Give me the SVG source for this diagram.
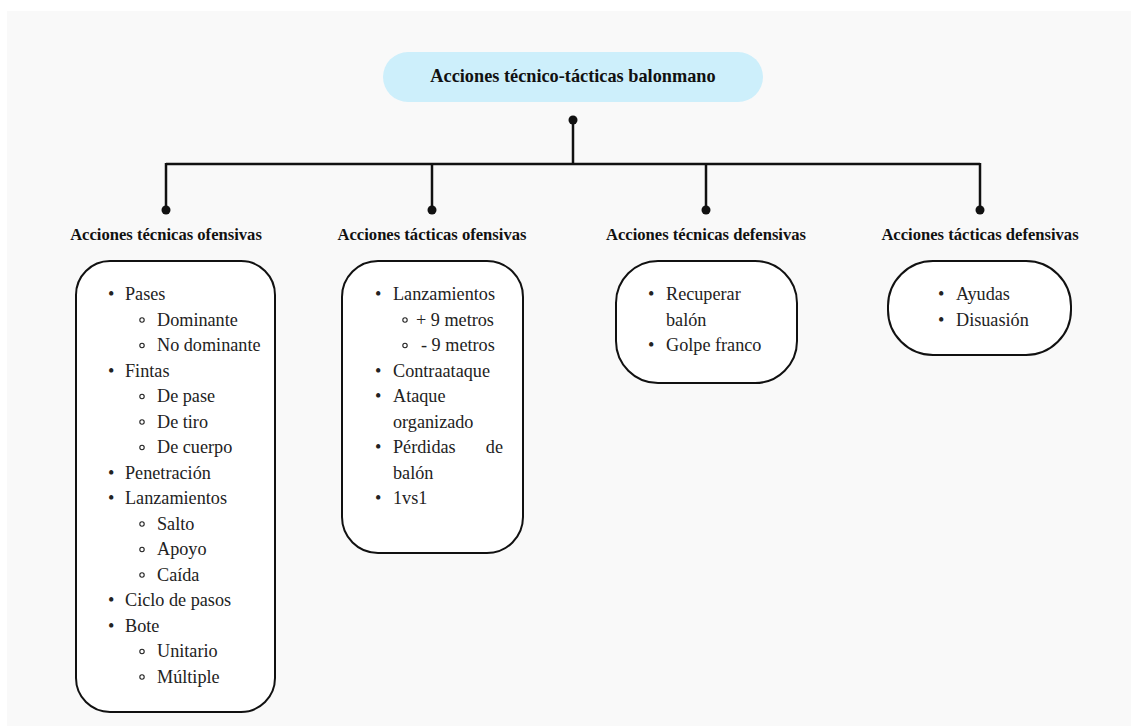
<svg xmlns="http://www.w3.org/2000/svg" width="1131" height="726" viewBox="0 0 1131 726">
<style>
.bg{fill:#f9f9f9}
.box{fill:#ffffff;stroke:#111;stroke-width:2}
.ln{fill:none;stroke:#111;stroke-width:2.5}
.dot{fill:#111}
.sb{fill:none;stroke:#222;stroke-width:1.1}
.t{font-family:"Liberation Serif","Times New Roman",serif;font-size:18.2px;fill:#222}
.h{font-family:"Liberation Serif","Times New Roman",serif;font-size:16.6px;font-weight:bold;fill:#111;text-anchor:middle}
.ttl{font-family:"Liberation Serif","Times New Roman",serif;font-size:18.3px;font-weight:bold;fill:#111;text-anchor:middle}
</style>
<rect x="0" y="0" width="1131" height="726" fill="#ffffff"/>
<rect class="bg" x="7" y="11" width="1124" height="715"/>
<g id="connectors">
<line class="ln" x1="573" y1="120" x2="573" y2="164"/>
<line class="ln" x1="166" y1="164" x2="980" y2="164"/>
<line class="ln" x1="166" y1="163" x2="166" y2="210"/>
<line class="ln" x1="432" y1="163" x2="432" y2="210"/>
<line class="ln" x1="706" y1="163" x2="706" y2="210"/>
<line class="ln" x1="980" y1="163" x2="980" y2="210"/>
<circle class="dot" cx="573" cy="120" r="4.5"/>
<circle class="dot" cx="166" cy="210" r="4.5"/>
<circle class="dot" cx="432" cy="210" r="4.5"/>
<circle class="dot" cx="706" cy="210" r="4.5"/>
<circle class="dot" cx="980" cy="210" r="4.5"/>
</g>
<g id="root">
<rect x="383" y="52" width="380" height="50" rx="25" fill="#cdeffb"/>
<text class="ttl" x="573" y="82">Acciones técnico-tácticas balonmano</text>
</g>
<g id="n1">
<text class="h" x="166" y="240">Acciones técnicas ofensivas</text>
<rect class="box" x="76" y="261" width="199" height="451" rx="34"/>
<g class="sb">
<circle cx="142" cy="320" r="2.2"/><circle cx="142" cy="345.5" r="2.2"/>
<circle cx="142" cy="396.5" r="2.2"/><circle cx="142" cy="422" r="2.2"/><circle cx="142" cy="447.5" r="2.2"/>
<circle cx="142" cy="524" r="2.2"/><circle cx="142" cy="549.5" r="2.2"/><circle cx="142" cy="575" r="2.2"/>
<circle cx="142" cy="651.5" r="2.2"/><circle cx="142" cy="677" r="2.2"/>
</g>
<g class="t">
<text x="108" y="300">•</text><text x="125" y="300">Pases</text>
<text x="157" y="325.5">Dominante</text>
<text x="157" y="351">No dominante</text>
<text x="108" y="376.5">•</text><text x="125" y="376.5">Fintas</text>
<text x="157" y="402">De pase</text>
<text x="157" y="427.5">De tiro</text>
<text x="157" y="453">De cuerpo</text>
<text x="108" y="478.5">•</text><text x="125" y="478.5">Penetración</text>
<text x="108" y="504">•</text><text x="125" y="504">Lanzamientos</text>
<text x="157" y="529.5">Salto</text>
<text x="157" y="555">Apoyo</text>
<text x="157" y="580.5">Caída</text>
<text x="108" y="606">•</text><text x="125" y="606">Ciclo de pasos</text>
<text x="108" y="631.5">•</text><text x="125" y="631.5">Bote</text>
<text x="157" y="657">Unitario</text>
<text x="157" y="682.5">Múltiple</text>
</g>
</g>
<g id="n2">
<text class="h" x="432" y="240">Acciones tácticas ofensivas</text>
<rect class="box" x="342" y="261" width="181" height="292" rx="36"/>
<g class="sb">
<circle cx="405" cy="320" r="2.2"/><circle cx="405" cy="345.5" r="2.2"/>
</g>
<g class="t">
<text x="375" y="300">•</text><text x="393" y="300">Lanzamientos</text>
<text x="416" y="325.5">+ 9 metros</text>
<text x="421" y="351">- 9 metros</text>
<text x="375" y="376.5">•</text><text x="393" y="376.5">Contraataque</text>
<text x="375" y="402">•</text><text x="393" y="402">Ataque</text>
<text x="393" y="427.5">organizado</text>
<text x="375" y="453">•</text><text x="393" y="453">Pérdidas</text><text x="503" y="453" text-anchor="end">de</text>
<text x="393" y="478.5">balón</text>
<text x="375" y="504">•</text><text x="393" y="504">1vs1</text>
</g>
</g>
<g id="n3">
<text class="h" x="706" y="240">Acciones técnicas defensivas</text>
<rect class="box" x="616" y="261" width="181" height="122" rx="42"/>
<g class="t">
<text x="648" y="300">•</text><text x="666" y="300">Recuperar</text>
<text x="666" y="325.5">balón</text>
<text x="648" y="351">•</text><text x="666" y="351">Golpe franco</text>
</g>
</g>
<g id="n4">
<text class="h" x="980" y="240">Acciones tácticas defensivas</text>
<rect class="box" x="888" y="261" width="183" height="94" rx="45"/>
<g class="t">
<text x="938" y="300">•</text><text x="956" y="300">Ayudas</text>
<text x="938" y="325.5">•</text><text x="956" y="325.5">Disuasión</text>
</g>
</g>
</svg>
